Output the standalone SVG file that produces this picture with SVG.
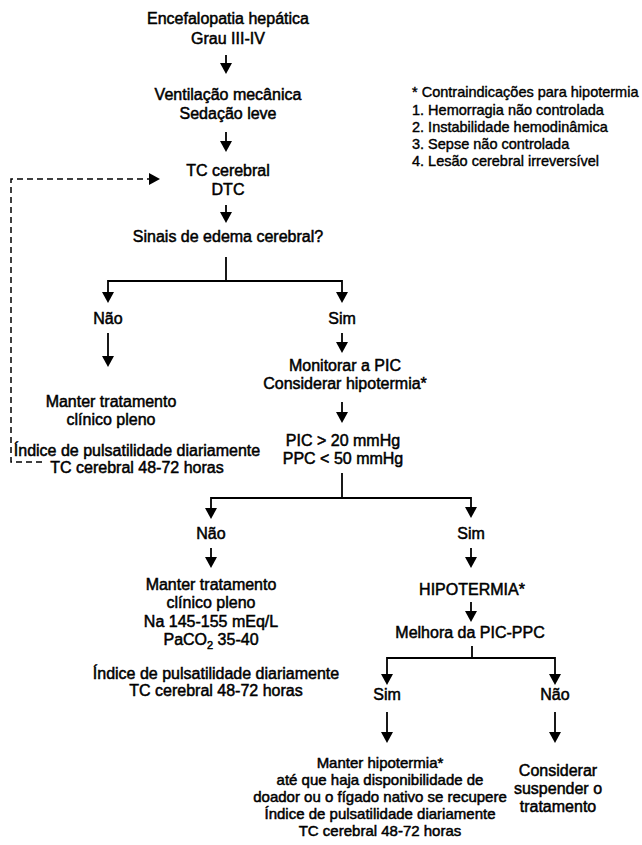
<svg xmlns="http://www.w3.org/2000/svg" width="642" height="845" viewBox="0 0 642 845">
<style>
.t{font-family:"Liberation Sans",Arial,sans-serif;font-size:16px;fill:#000;stroke:#000;stroke-width:0.5;text-anchor:middle}
.s{font-size:15px}
.lg{font-family:"Liberation Sans",Arial,sans-serif;font-size:14.5px;fill:#000;stroke:#000;stroke-width:0.4}
.c{fill:none;stroke:#000;stroke-width:1.8}
.d{fill:none;stroke:#000;stroke-width:1.5;stroke-dasharray:6 4}
</style>
<defs>
<marker id="arr" markerUnits="userSpaceOnUse" markerWidth="12" markerHeight="12" refX="6" refY="6" orient="auto" viewBox="0 0 12 12">
<path d="M0,0 L11,6 L0,12 Z" fill="#000"/>
</marker>
</defs>
<rect width="642" height="845" fill="#fff"/>
<g id="connectors">
<path class="c" d="M226,55 V69" marker-end="url(#arr)"/>
<path class="c" d="M226,132 V147" marker-end="url(#arr)"/>
<path class="c" d="M226,205 V218" marker-end="url(#arr)"/>
<path class="c" d="M226,257 V281"/>
<path class="c" d="M226,281 H108 V298" marker-end="url(#arr)"/>
<path class="c" d="M226,281 H342 V298" marker-end="url(#arr)"/>
<path class="c" d="M108,333 V362" marker-end="url(#arr)"/>
<path class="c" d="M342,333 V348" marker-end="url(#arr)"/>
<path class="c" d="M342,402 V418" marker-end="url(#arr)"/>
<path class="c" d="M342,473 V498"/>
<path class="c" d="M342,498 H211 V514" marker-end="url(#arr)"/>
<path class="c" d="M342,498 H471 V513" marker-end="url(#arr)"/>
<path class="c" d="M211,548 V563" marker-end="url(#arr)"/>
<path class="c" d="M471,548 V563" marker-end="url(#arr)"/>
<path class="c" d="M471,602 V617" marker-end="url(#arr)"/>
<path class="c" d="M472,646 V658"/>
<path class="c" d="M472,658 H387 V680" marker-end="url(#arr)"/>
<path class="c" d="M472,658 H555 V680" marker-end="url(#arr)"/>
<path class="c" d="M387,712 V738" marker-end="url(#arr)"/>
<path class="c" d="M555,712 V738" marker-end="url(#arr)"/>
<path class="d" d="M42,462 H11 V179 H155" marker-end="url(#arr)"/>
</g>
<g id="n-encefalopatia"><text class="t" x="228" y="24">Encefalopatia hepática</text><text class="t" x="228" y="44">Grau III-IV</text></g>
<g id="n-ventilacao"><text class="t" x="228" y="100">Ventilação mecânica</text><text class="t" x="228" y="119">Sedação leve</text></g>
<g id="n-tc"><text class="t" x="228" y="176">TC cerebral</text><text class="t" x="228" y="195">DTC</text></g>
<g id="n-sinais"><text class="t" x="228" y="242">Sinais de edema cerebral?</text></g>
<g id="n-nao1"><text class="t" x="108" y="324">Não</text></g>
<g id="n-sim1"><text class="t" x="342" y="324">Sim</text></g>
<g id="n-manter1"><text class="t" x="111" y="407">Manter tratamento</text><text class="t" x="111" y="425">clínico pleno</text><text class="t" x="137" y="456">Índice de pulsatilidade diariamente</text><text class="t" x="137" y="473">TC cerebral 48-72 horas</text></g>
<g id="n-monitorar"><text class="t" x="345" y="371">Monitorar a PIC</text><text class="t" x="345" y="389">Considerar hipotermia*</text></g>
<g id="n-pic"><text class="t" x="343" y="446">PIC &gt; 20 mmHg</text><text class="t" x="343" y="464">PPC &lt; 50 mmHg</text></g>
<g id="n-nao2"><text class="t" x="211" y="539">Não</text></g>
<g id="n-sim2"><text class="t" x="471" y="539">Sim</text></g>
<g id="n-manter2"><text class="t" x="211" y="590">Manter tratamento</text><text class="t" x="211" y="608">clínico pleno</text><text class="t" x="211" y="627">Na 145-155 mEq/L</text><text class="t" x="211" y="645">PaCO<tspan font-size="11" dy="4">2</tspan><tspan dy="-4"> 35-40</tspan></text><text class="t" x="216" y="679">Índice de pulsatilidade diariamente</text><text class="t" x="216" y="696">TC cerebral 48-72 horas</text></g>
<g id="n-hipotermia"><text class="t" x="472" y="595">HIPOTERMIA*</text></g>
<g id="n-melhora"><text class="t" x="470" y="638">Melhora da PIC-PPC</text></g>
<g id="n-sim3"><text class="t" x="387" y="700">Sim</text></g>
<g id="n-nao3"><text class="t" x="555" y="700">Não</text></g>
<g id="n-manter-hipo"><text class="t s" x="380" y="768">Manter hipotermia*</text><text class="t s" x="380" y="785">até que haja disponibilidade de</text><text class="t s" x="380" y="802">doador ou o fígado nativo se recupere</text><text class="t s" x="380" y="819">Índice de pulsatilidade diariamente</text><text class="t s" x="380" y="836">TC cerebral 48-72 horas</text></g>
<g id="n-suspender"><text class="t" x="558" y="776">Considerar</text><text class="t" x="558" y="794">suspender o</text><text class="t" x="558" y="812">tratamento</text></g>
<g id="legend"><text class="lg" x="412" y="97">* Contraindicações para hipotermia</text><text class="lg" x="412" y="115">1. Hemorragia não controlada</text><text class="lg" x="412" y="132">2. Instabilidade hemodinâmica</text><text class="lg" x="412" y="149">3. Sepse não controlada</text><text class="lg" x="412" y="166">4. Lesão cerebral irreversível</text></g>
</svg>
